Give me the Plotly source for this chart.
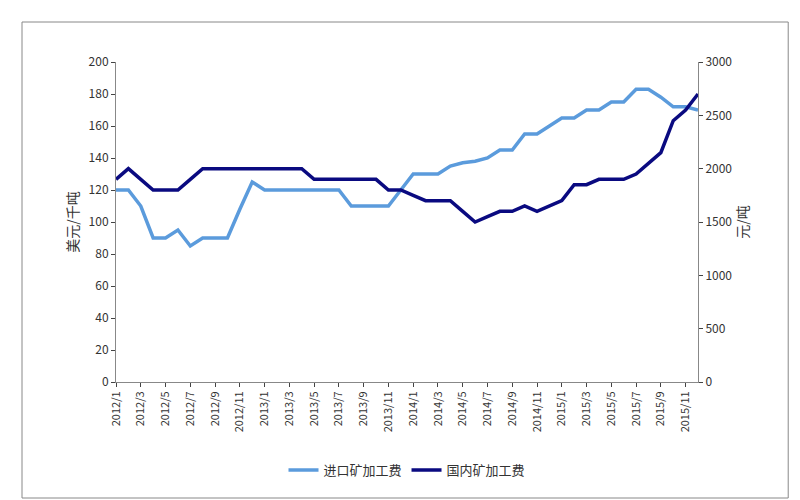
import plotly.graph_objects as go

months = [f"{y}/{m}" for y in (2012, 2013, 2014, 2015) for m in range(1, 13)]
imported = [120, 120, 110, 90, 90, 95, 85, 90, 90, 90, 108, 125,
            120, 120, 120, 120, 120, 120, 120, 110, 110, 110, 110, 120,
            130, 130, 130, 135, 137, 138, 140, 145, 145, 155, 155, 160,
            165, 165, 170, 170, 175, 175, 183, 183, 178, 172, 172, 170]
domestic = [1900, 2000, 1900, 1800, 1800, 1800, 1900, 2000, 2000, 2000, 2000, 2000,
            2000, 2000, 2000, 2000, 1900, 1900, 1900, 1900, 1900, 1900, 1800, 1800,
            1750, 1700, 1700, 1700, 1600, 1500, 1550, 1600, 1600, 1650, 1600, 1650,
            1700, 1850, 1850, 1900, 1900, 1900, 1950, 2050, 2150, 2450, 2550, 2700]
tick_labels = months[::2]

fig = go.Figure()
fig.add_trace(go.Scatter(x=months, y=imported, name='进口矿加工费', mode='lines',
                         line=dict(color='#5b9bdc', width=3.5)))
fig.add_trace(go.Scatter(x=months, y=domestic, name='国内矿加工费', mode='lines', yaxis='y2',
                         line=dict(color='#0a0a80', width=3.5)))

font = dict(family='Noto Sans CJK SC', size=12, color='#333')
fig.update_layout(
    width=800, height=500, margin=dict(l=108, r=110, t=54, b=126),
    paper_bgcolor='white', plot_bgcolor='white', font=font,
    xaxis=dict(type='category', tickmode='array', tickvals=tick_labels, ticktext=tick_labels,
               tickangle=-90, showline=True, linecolor='#888', ticks='outside', ticklen=4,
               showgrid=False, tickfont=dict(size=11), automargin=False),
    yaxis=dict(range=[0, 200], dtick=20, showline=True, linecolor='#888', ticks='outside',
               ticklen=4, showgrid=False, automargin=False,
               title=dict(text='美元/千吨', standoff=6)),
    yaxis2=dict(range=[0, 3000], dtick=500, overlaying='y', side='right', showline=True,
                linecolor='#888', ticks='outside', ticklen=4, showgrid=False, automargin=False,
                title=dict(text='元/吨', standoff=6)),
    legend=dict(orientation='h', x=0.5, xanchor='center', y=-0.275, yanchor='middle',
                font=dict(size=13)),
    shapes=[dict(type='rect', xref='paper', yref='paper', x0=-0.1615, x1=1.155,
                 y0=-0.3625, y1=1.125, line=dict(color='#888', width=1))],
)
fig.write_html("out.html")
